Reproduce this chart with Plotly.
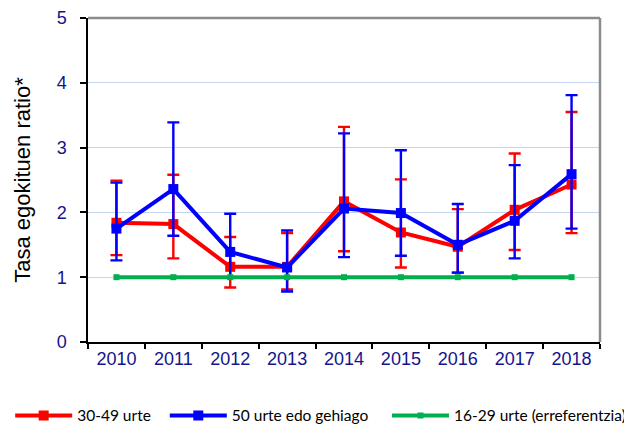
import plotly.graph_objects as go

years = ["2010", "2011", "2012", "2013", "2014", "2015", "2016", "2017", "2018"]

red_name = "30-49 urte"
red_val = [1.84, 1.82, 1.16, 1.16, 2.17, 1.69, 1.47, 2.04, 2.43]
red_hi = [2.49, 2.58, 1.62, 1.68, 3.32, 2.51, 2.05, 2.91, 3.55]
red_lo = [1.34, 1.29, 0.84, 0.81, 1.40, 1.15, 1.07, 1.42, 1.68]

blue_name = "50 urte edo gehiago"
blue_val = [1.75, 2.36, 1.39, 1.15, 2.06, 1.99, 1.50, 1.87, 2.59]
blue_hi = [2.46, 3.39, 1.98, 1.72, 3.22, 2.96, 2.13, 2.73, 3.81]
blue_lo = [1.26, 1.64, 1.00, 0.78, 1.31, 1.33, 1.07, 1.29, 1.75]

green_name = "16-29 urte (erreferentzia)"
green_val = [1, 1, 1, 1, 1, 1, 1, 1, 1]

y_title = "Tasa egokituen ratio*"
y_ticks = [0, 1, 2, 3, 4, 5]

ARIAL = "Liberation Sans, Arial, sans-serif"

def err(val, hi, lo, color):
    return dict(type="data", symmetric=False,
                array=[h - v for h, v in zip(hi, val)],
                arrayminus=[v - l for v, l in zip(val, lo)],
                color=color, thickness=2.4, width=6)

fig = go.Figure()
fig.add_trace(go.Scatter(x=years, y=red_val, name=red_name, mode="lines+markers",
                         legend="legend",
                         line=dict(color="#FF0000", width=4),
                         marker=dict(symbol="square", size=10, color="#FF0000"),
                         error_y=err(red_val, red_hi, red_lo, "#FF0000")))
fig.add_trace(go.Scatter(x=years, y=blue_val, name=blue_name, mode="lines+markers",
                         legend="legend2",
                         line=dict(color="#0000FF", width=4),
                         marker=dict(symbol="square", size=10, color="#0000FF"),
                         error_y=err(blue_val, blue_hi, blue_lo, "#0000FF")))
fig.add_trace(go.Scatter(x=years, y=green_val, name=green_name, mode="lines+markers",
                         legend="legend3",
                         line=dict(color="#00B050", width=4),
                         marker=dict(symbol="square", size=6, color="#00B050")))

leg_common = dict(orientation="h", xanchor="left", y=-0.228, yanchor="middle",
                  font=dict(family="Lato", size=15.5, color="black"),
                  itemwidth=57, bgcolor="rgba(0,0,0,0)")

fig.update_layout(
    width=624, height=416,
    margin=dict(l=80, r=32, t=10, b=82, autoexpand=False),
    paper_bgcolor="white", plot_bgcolor="white",
    showlegend=True,
    legend=dict(x=-0.152, **leg_common),
    legend2=dict(x=0.150, **leg_common),
    legend3=dict(x=0.584, **leg_common),
    xaxis=dict(type="category", range=[-0.5, 8.5], tickson="boundaries",
               ticks="outside", ticklen=5, tickcolor="black", tickwidth=1.5,
               showline=True, linecolor="black", linewidth=1.5,
               showgrid=False, automargin=False, ticklabelstandoff=0,
               tickfont=dict(family=ARIAL, size=18, color="#14148C")),
    yaxis=dict(range=[0, 5], tickvals=y_ticks, ticks="outside", ticklen=6,
               tickcolor="black", tickwidth=1.5, showline=True, linecolor="black", linewidth=1.5,
               showgrid=True, gridcolor="#C5D5F0", gridwidth=1, zeroline=False,
               automargin=False, ticklabelstandoff=10,
               tickfont=dict(family=ARIAL, size=18, color="#14148C"),
               title=dict(text=y_title, standoff=20,
                          font=dict(family=ARIAL, size=22, color="black"))),
    shapes=[
        dict(type="line", xref="paper", yref="paper", x0=0, x1=1, y0=1, y1=1,
             line=dict(color="#8C8C8C", width=2.5)),
        dict(type="line", xref="paper", yref="paper", x0=1, x1=1, y0=0, y1=1,
             line=dict(color="#8C8C8C", width=2.5)),
    ],
)

fig.write_html("out.html")
